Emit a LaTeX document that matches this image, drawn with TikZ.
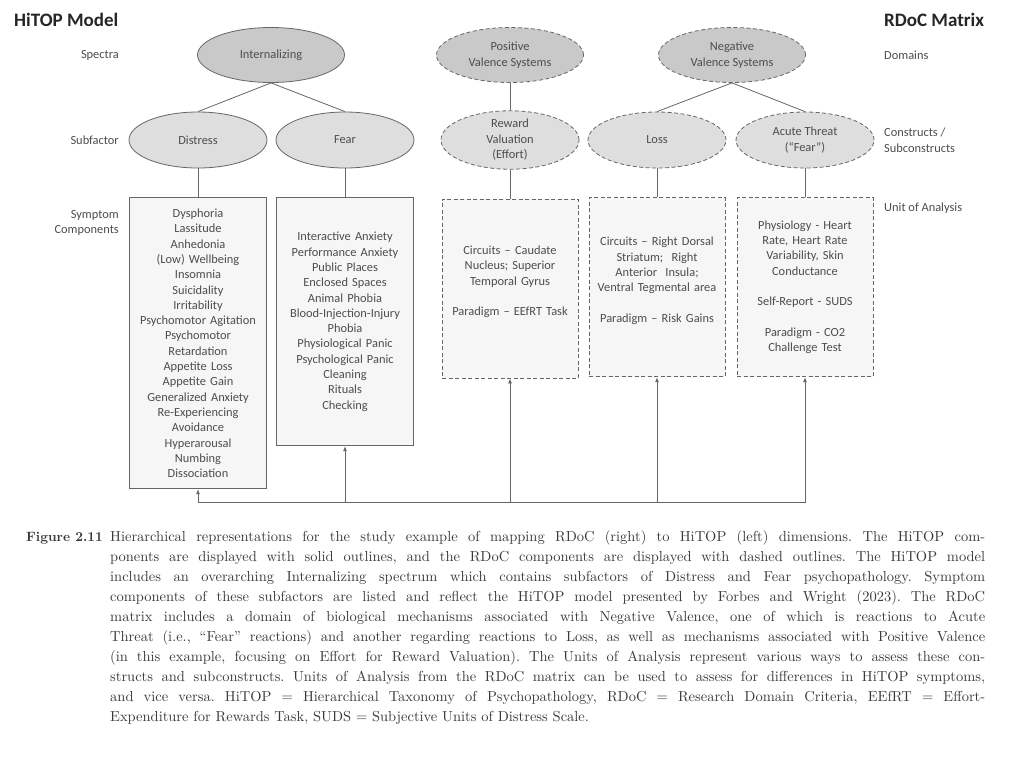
\documentclass[tikz,border=0pt]{standalone}
\usepackage{fontspec}
\usepackage{tikz}
\usepackage{xcolor}
\usetikzlibrary{arrows.meta,positioning,shapes.geometric}
\newfontfamily\diafont{Carlito}
\font\capfont="[lmroman10-regular.otf]" at 14.5pt
\font\capboldfont="[lmroman10-bold.otf]" at 13.5pt
\definecolor{SpecGray}{HTML}{C9C9C9}
\definecolor{SubGray}{HTML}{DEDEDE}
\definecolor{BoxGray}{HTML}{F6F6F6}
\definecolor{EdgeGray}{HTML}{666666}
\definecolor{InkGray}{HTML}{4D4D4D}
\definecolor{CapInk}{HTML}{3A3A3A}
\tikzset{
  htspec/.style={ellipse, draw=EdgeGray, fill=SpecGray, line width=0.8pt, minimum width=147pt, minimum height=55pt, align=center, inner sep=0pt, font=\diafont\fontsize{12.4}{15.5}\selectfont, text=InkGray},
  rdspec/.style={htspec, dash pattern=on 4pt off 2.5pt},
  htsub/.style={htspec, fill=SubGray, minimum width=138pt, minimum height=56pt},
  rdsub/.style={htsub, dash pattern=on 4pt off 2.5pt},
  htbox/.style={draw=EdgeGray, fill=BoxGray, line width=0.8pt, inner sep=0pt, text width=137pt, align=center, font=\diafont\fontsize{12.4}{15.3}\selectfont, text=InkGray},
  rdbox/.style={htbox, dash pattern=on 4pt off 2.5pt, text width=136pt, minimum height=179pt},
  rowlabel/.style={font=\diafont\fontsize{12.4}{15.5}\selectfont, text=InkGray, inner sep=0pt},
  headlabel/.style={font=\diafont\bfseries\fontsize{19}{21}\selectfont, text=black!85, inner sep=0pt},
  treeline/.style={draw=EdgeGray, line width=0.8pt},
  busarrow/.style={-{Latex[length=5pt,width=4pt]}, draw=EdgeGray, line width=0.8pt}
}

\begin{document}
\begin{tikzpicture}[x=1pt, y=-1pt]
  \useasboundingbox (0,0) rectangle (1024,769);
  \fill[white] (0,0) rectangle (1024,769);

  % headings and row labels
  \node[headlabel, anchor=west] (hitop) at (14,20) {HiTOP Model};
  \node[headlabel, anchor=west] (rdoc) at (884,20) {RDoC Matrix};
  \node[rowlabel, anchor=east] (spectra) at (119,55) {Spectra};
  \node[rowlabel, anchor=east] (subfac) at (119,140) {Subfactor};
  \node[rowlabel, anchor=east, align=right] (sympt) at (119,223) {Symptom\\Components};
  \node[rowlabel, anchor=west] (domains) at (884,55) {Domains};
  \node[rowlabel, anchor=west, align=left] (constr) at (884,140) {Constructs /\\Subconstructs};
  \node[rowlabel, anchor=west] (unit) at (884,208) {Unit of Analysis};

  % spectra / domains
  \node[htspec] (intern) at (271,55) {Internalizing};
  \node[rdspec] (posval) at (510,55) {Positive\\Valence Systems};
  \node[rdspec] (negval) at (732,55) {Negative\\Valence Systems};

  % subfactors / constructs
  \node[htsub] (distress) at (198,140) {Distress};
  \node[htsub] (fear) at (345,140) {Fear};
  \node[rdsub] (reward) at (510,140) {Reward\\Valuation\\(Effort)};
  \node[rdsub] (loss) at (657,140) {Loss};
  \node[rdsub] (threat) at (805,140) {Acute Threat\\(“Fear”)};

  % symptom components / units of analysis
  \node[htbox, minimum height=291pt, below=29pt of distress] (distressbox) {Dysphoria\\Lassitude\\Anhedonia\\(Low) Wellbeing\\Insomnia\\Suicidality\\Irritability\\Psychomotor Agitation\\Psychomotor\\Retardation\\Appetite Loss\\Appetite Gain\\Generalized Anxiety\\Re-Experiencing\\Avoidance\\Hyperarousal\\Numbing\\Dissociation};
  \node[htbox, minimum height=248pt, below=29pt of fear] (fearbox) {Interactive Anxiety\\Performance Anxiety\\Public Places\\Enclosed Spaces\\Animal Phobia\\Blood-Injection-Injury\\Phobia\\Physiological Panic\\Psychological Panic\\Cleaning\\Rituals\\Checking};
  \node[rdbox, below=29pt of reward] (rewardbox) {Circuits – Caudate\\Nucleus; Superior\\Temporal Gyrus\\[15.3pt]Paradigm – EEfRT Task\\\mbox{}};
  \node[rdbox, below=29pt of loss] (lossbox) {Circuits – Right Dorsal\\Striatum;\ \ Right\\Anterior\ \ Insula;\\Ventral Tegmental area\\[15.3pt]Paradigm – Risk Gains\\\mbox{}};
  \node[rdbox, below=29pt of threat] (threatbox) {Physiology - Heart\\Rate, Heart Rate\\Variability, Skin\\Conductance\\[15.3pt]Self-Report - SUDS\\[15.3pt]Paradigm - CO2\\Challenge Test};

  % tree lines
  \draw[treeline] (intern.south) -- (distress.north);
  \draw[treeline] (intern.south) -- (fear.north);
  \draw[treeline] (posval) -- (reward);
  \draw[treeline] (negval.south) -- (loss.north);
  \draw[treeline] (negval.south) -- (threat.north);
  \draw[treeline] (distress) -- (distressbox);
  \draw[treeline] (fear) -- (fearbox);
  \draw[treeline] (reward) -- (rewardbox);
  \draw[treeline] (loss) -- (lossbox);
  \draw[treeline] (threat) -- (threatbox);

  % bottom link between both sides
  \coordinate (busleft) at (198,502);
  \coordinate (busright) at (806,502);
  \draw[treeline] (busleft) -- (busright);
  \foreach \b in {distressbox,fearbox,rewardbox,lossbox,threatbox}
    \draw[busarrow] (\b.south |- busleft) -- (\b.south);

  % caption
  \node[anchor=base west, font=\capboldfont, text=CapInk, inner sep=0pt] (figlabel) at (26,541) {Figure 2.11};
  \node[anchor=north west, text width=875pt, align=justify, inner sep=0pt, font={\capfont\baselineskip=20.1pt}, text=CapInk] (caption) at (110,530) {\baselineskip=20.1pt\hyphenpenalty=10000\tolerance=9999\frenchspacing
    Hierarchical representations for the study example of mapping RDoC (right) to HiTOP (left) dimensions. The HiTOP com-\linebreak
    ponents are displayed with solid outlines, and the RDoC components are displayed with dashed outlines. The HiTOP model\linebreak
    includes an overarching Internalizing spectrum which contains subfactors of Distress and Fear psychopathology. Symptom\linebreak
    components of these subfactors are listed and reflect the HiTOP model presented by Forbes and Wright (2023). The RDoC\linebreak
    matrix includes a domain of biological mechanisms associated with Negative Valence, one of which is reactions to Acute\linebreak
    Threat (i.e., “Fear” reactions) and another regarding reactions to Loss, as well as mechanisms associated with Positive Valence\linebreak
    (in this example, focusing on Effort for Reward Valuation). The Units of Analysis represent various ways to assess these con-\linebreak
    structs and subconstructs. Units of Analysis from the RDoC matrix can be used to assess for differences in HiTOP symptoms,\linebreak
    and vice versa. HiTOP = Hierarchical Taxonomy of Psychopathology, RDoC = Research Domain Criteria, EEfRT = Effort-\linebreak
    Expenditure for Rewards Task, SUDS = Subjective Units of Distress Scale.\par};
\end{tikzpicture}
\end{document}
